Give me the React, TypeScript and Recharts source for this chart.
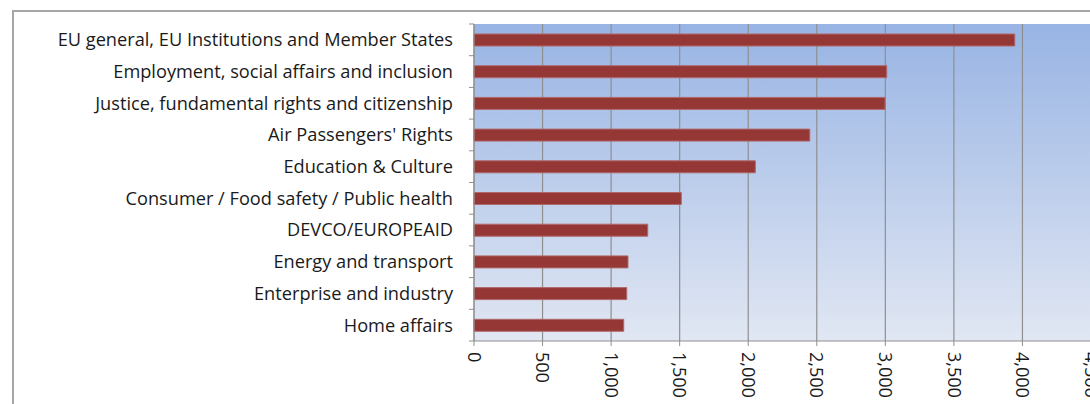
import { BarChart, Bar, XAxis, YAxis, CartesianGrid } from "recharts";

const categories = [
  "EU general, EU Institutions and Member States",
  "Employment, social affairs and inclusion",
  "Justice, fundamental rights and citizenship",
  "Air Passengers' Rights",
  "Education & Culture",
  "Consumer / Food safety / Public health",
  "DEVCO/EUROPEAID",
  "Energy and transport",
  "Enterprise and industry",
  "Home affairs",
];
const complaints = [3944, 3010, 2998, 2449, 2052, 1512, 1267, 1123, 1114, 1092];
const xTicks = [0, 500, 1000, 1500, 2000, 2500, 3000, 3500, 4000, 4500];

const data = categories.map((name, i) => ({ name, value: complaints[i] }));

const FONT = "'Open Sans', sans-serif";

const XTick = (props: any) => {
  const { x, y, payload } = props;
  return (
    <g transform={`translate(${x},${y + 4}) rotate(90)`}>
      <text x={0} y={0} dy="0.35em" textAnchor="start" fontSize={18} fontFamily={FONT} fill="#1a1a1a">
        {payload.value.toLocaleString("en-US")}
      </text>
    </g>
  );
};

const YTick = (props: any) => {
  const { x, y, payload, index } = props;
  const half = 317 / categories.length / 2;
  return (
    <g>
      {index === 0 && <line x1={x + 16} x2={x + 21} y1={y - half} y2={y - half} stroke="#8f8f8f" />}
      <line x1={x + 16} x2={x + 21} y1={y + half} y2={y + half} stroke="#8f8f8f" />
      <text x={x} y={y} dy="0.35em" textAnchor="end" fontSize={18.2} fontFamily={FONT} fill="#1a1a1a">
        {payload.value}
      </text>
    </g>
  );
};

export default function App() {
  return (
    <div style={{ position: "fixed", left: 0, top: 0, width: 1090, height: 404, overflow: "hidden", background: "#fff" }}>
      <div
        style={{
          position: "absolute",
          left: 12,
          top: 10,
          width: 1200,
          height: 500,
          borderLeft: "2px solid #a6a6a6",
          borderTop: "2px solid #a6a6a6",
          background: "#fff",
        }}
      >
        <BarChart
          width={1100}
          height={420}
          data={data}
          layout="vertical"
          margin={{ top: 12, right: 23, bottom: 31, left: 0 }}
          barCategoryGap="30%"
        >
          <defs>
            <linearGradient id="plotBg" x1="0" y1="0" x2="0" y2="1">
              <stop offset="0%" stopColor="#98b4e4" />
              <stop offset="100%" stopColor="#e1e7f3" />
            </linearGradient>
          </defs>
          <CartesianGrid horizontal={false} stroke="#8f8f8f" strokeWidth={1.2} fill="url(#plotBg)" fillOpacity={1} />
          <XAxis
            type="number"
            domain={[0, 4500]}
            ticks={xTicks}
            height={60}
            interval={0}
            tickSize={5}
            tickMargin={2}
            stroke="#8f8f8f"
            tick={<XTick />}
          />
          <YAxis
            type="category"
            dataKey="name"
            width={460}
            tickLine={false}
            tickSize={5}
            tickMargin={16}
            stroke="#8f8f8f"
            interval={0}
            tick={<YTick />}
          />
          <Bar dataKey="value" fill="#953735" stroke="#b0686a" strokeWidth={1} barSize={12} isAnimationActive={false} />
        </BarChart>
      </div>
    </div>
  );
}
